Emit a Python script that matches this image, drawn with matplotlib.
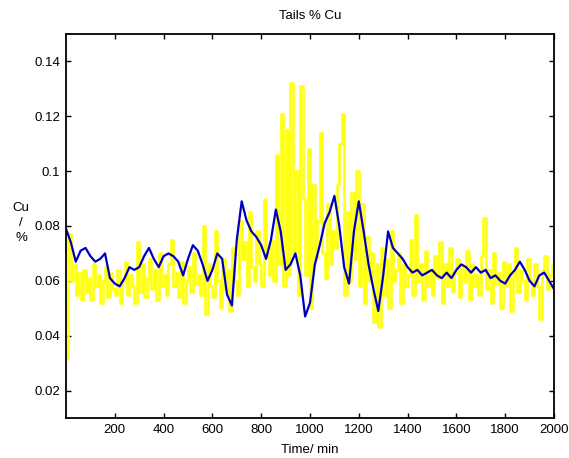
import numpy as np
import matplotlib
matplotlib.use("Agg")
import matplotlib.pyplot as plt
from matplotlib.ticker import FixedLocator, FixedFormatter

# Measured tails grade, sampled every 10 min
meas_time = np.arange(0, 2001, 10)
meas_cu = [
    0.032, 0.077, 0.060, 0.066, 0.055, 0.063, 0.053, 0.064, 0.056, 0.061,
    0.053, 0.066, 0.058, 0.062, 0.052, 0.060, 0.065, 0.054, 0.063, 0.057,
    0.055, 0.064, 0.052, 0.060, 0.067, 0.055, 0.062, 0.058, 0.052, 0.074,
    0.056, 0.066, 0.054, 0.061, 0.068, 0.057, 0.064, 0.053, 0.070, 0.058,
    0.062, 0.055, 0.066, 0.075, 0.058, 0.063, 0.054, 0.067, 0.052, 0.060,
    0.065, 0.056, 0.070, 0.059, 0.062, 0.055, 0.080, 0.048, 0.066, 0.058,
    0.054, 0.078, 0.060, 0.050, 0.068, 0.057, 0.064, 0.049, 0.072, 0.060,
    0.055, 0.082, 0.068, 0.074, 0.058, 0.085, 0.065, 0.060, 0.078, 0.066,
    0.058, 0.090, 0.070, 0.062, 0.075, 0.060, 0.106, 0.066, 0.121, 0.058,
    0.115, 0.062, 0.132, 0.070, 0.100, 0.055, 0.131, 0.090, 0.062, 0.108,
    0.050, 0.095, 0.068, 0.082, 0.114, 0.070, 0.061, 0.088, 0.066, 0.078,
    0.072, 0.095, 0.110, 0.121, 0.055, 0.085, 0.060, 0.092, 0.068, 0.100,
    0.058, 0.088, 0.052, 0.076, 0.060, 0.070, 0.045, 0.066, 0.043, 0.072,
    0.055, 0.068, 0.050, 0.078, 0.060, 0.064, 0.070, 0.052, 0.066, 0.058,
    0.062, 0.075, 0.055, 0.084, 0.060, 0.066, 0.053, 0.071, 0.058, 0.064,
    0.055, 0.069, 0.061, 0.074, 0.052, 0.066, 0.058, 0.072, 0.056, 0.063,
    0.068, 0.054, 0.065, 0.060, 0.071, 0.053, 0.066, 0.058, 0.062, 0.055,
    0.069, 0.083, 0.057, 0.064, 0.052, 0.070, 0.059, 0.063, 0.050, 0.067,
    0.058, 0.066, 0.049, 0.062, 0.072, 0.056, 0.064, 0.060, 0.053, 0.068,
    0.060, 0.055, 0.066, 0.058, 0.046, 0.064, 0.069, 0.057, 0.062, 0.066,
    0.060,
]

# Model estimate of tails grade, every 20 min
est_time = np.arange(0, 2001, 20)
est_cu = [
    0.079, 0.074, 0.067, 0.071, 0.072, 0.069, 0.067, 0.068, 0.070, 0.061,
    0.059, 0.058, 0.061, 0.065, 0.064, 0.065, 0.069, 0.072, 0.068, 0.065,
    0.069, 0.070, 0.069, 0.067, 0.062, 0.068, 0.073, 0.071, 0.066, 0.060,
    0.064, 0.070, 0.068, 0.055, 0.051, 0.075, 0.089, 0.082, 0.078, 0.076,
    0.073, 0.068, 0.075, 0.086, 0.078, 0.064, 0.066, 0.070, 0.062, 0.047,
    0.052, 0.066, 0.073, 0.081, 0.085, 0.091, 0.080, 0.065, 0.059, 0.078,
    0.089, 0.078, 0.066, 0.057, 0.049, 0.062, 0.078, 0.072, 0.070, 0.068,
    0.065, 0.063, 0.064, 0.062, 0.063, 0.064, 0.062, 0.061, 0.063, 0.061,
    0.064, 0.066, 0.065, 0.063, 0.065, 0.063, 0.064, 0.061, 0.062, 0.060,
    0.059, 0.062, 0.064, 0.067, 0.064, 0.060, 0.058, 0.062, 0.063, 0.060,
    0.057,
]

x_ticks = [200, 400, 600, 800, 1000, 1200, 1400, 1600, 1800, 2000]
x_labels = ["200", "400", "600", "800", "1000", "1200", "1400", "1600", "1800", "2000"]
y_ticks = [0.02, 0.04, 0.06, 0.08, 0.10, 0.12, 0.14]
y_labels = ["0.02", "0.04", "0.06", "0.08", "0.1", "0.12", "0.14"]

plt.rcParams["font.family"] = ["Liberation Sans", "DejaVu Sans"]
fs = 9.5

fig = plt.figure(figsize=(5.69, 4.58), dpi=100)
ax = fig.add_axes([66 / 569, 40 / 458, 488 / 569, 384 / 458])

ax.plot(meas_time, meas_cu, drawstyle="steps-post", color="#FFFF10", lw=1.9)
ax.plot(est_time, est_cu, color="#0000E0", lw=1.6)
ax.plot(est_time, est_cu, color="#000050", lw=0.5, alpha=0.6)

ax.set_xlim(0, 2000)
ax.set_ylim(0.01, 0.15)
ax.xaxis.set_major_locator(FixedLocator(x_ticks))
ax.xaxis.set_major_formatter(FixedFormatter(x_labels))
ax.yaxis.set_major_locator(FixedLocator(y_ticks))
ax.yaxis.set_major_formatter(FixedFormatter(y_labels))
ax.tick_params(direction="in", length=3.5, width=1.0, top=True, right=True,
               labelsize=fs, pad=4)
for s in ax.spines.values():
    s.set_linewidth(1.3)

fig.text(310 / 569, 1 - 16 / 458, "Tails % Cu", ha="center", va="center", fontsize=fs)
fig.text(310 / 569, 1 - 450 / 458, "Time/ min", ha="center", va="center", fontsize=fs)
fig.text(21 / 569, 1 - 223 / 458, "Cu\n/\n%", ha="center", va="center",
         fontsize=fs, linespacing=1.3)

fig.savefig("out.png", dpi=100)
